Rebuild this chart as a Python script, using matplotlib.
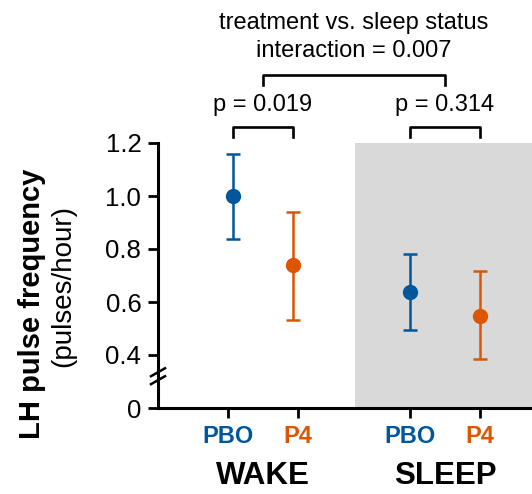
import matplotlib.pyplot as plt

plt.rcParams['font.family'] = ['Liberation Sans', 'DejaVu Sans']

# group means and error bar limits (pulses/hour)
labels = ["PBO", "P4", "PBO", "P4"]
means = [1.0, 0.739, 0.638, 0.548]
upper = [1.159, 0.941, 0.78, 0.716]
lower = [0.836, 0.533, 0.495, 0.386]
groups = ["WAKE", "SLEEP"]
p_values = ["p = 0.019", "p = 0.314"]
interaction = "treatment vs. sleep status\ninteraction = 0.007"

blue = "#00579b"
orange = "#dd5500"
colors = [blue, orange, blue, orange]

tick_pos = [0, 1, 2.6, 3.6]
point_pos = [0.07, 0.93, 2.6, 3.6]

fig = plt.figure(figsize=(5.32, 4.94), dpi=100)
ax = fig.add_axes([158 / 532, 86 / 494, 374 / 532, 265 / 494])

# sleep half shaded grey
ax.axvspan(1.81, 4.4, color="#d9d9d9", lw=0, zorder=0)

for x, m, hi, lo, c in zip(point_pos, means, upper, lower, colors):
    ax.errorbar(x, m, yerr=[[m - lo], [hi - m]], fmt="o", color=c,
                ms=10, elinewidth=1.8, capsize=5, capthick=1.8, zorder=3)

# broken y axis: 0 sits one step below 0.4
ax.set_ylim(0.2, 1.2)
ax.set_yticks([0.2, 0.4, 0.6, 0.8, 1.0, 1.2])
ax.set_yticklabels(["0", "0.4", "0.6", "0.8", "1.0", "1.2"], fontsize=18.5)
ax.set_xlim(-1.0, 4.343)
ax.set_xticks(tick_pos)
ax.set_xticklabels(labels, fontsize=17, fontweight="bold")
for t, c in zip(ax.get_xticklabels(), colors):
    t.set_color(c)

for s in ["top", "right"]:
    ax.spines[s].set_visible(False)
for s in ["left", "bottom"]:
    ax.spines[s].set_linewidth(2.2)
ax.tick_params(width=2, length=7, pad=5)

# axis break marks
for dy in [0.0, 0.03]:
    ax.plot([-1.1, -0.9], [0.29 + dy, 0.32 + dy], color="black", lw=1.8,
            clip_on=False, zorder=5)

ax.text(-2.8, 0.593, "LH pulse frequency", rotation=90, fontsize=21,
        fontweight="bold", ha="center", va="center")
ax.text(-2.36, 0.66, "(pulses/hour)", rotation=90, fontsize=20,
        ha="center", va="center")

for g, x in zip(groups, [0.5, 3.1]):
    ax.text(x, -0.055, g, fontsize=22.5, fontweight="bold", ha="center",
            va="center", clip_on=False)


def bracket(x0, x1, y, h):
    ax.plot([x0, x0, x1, x1], [y - h, y, y, y - h], color="black", lw=1.9,
            clip_on=False)


bracket(point_pos[0], point_pos[1], 1.26, 0.038)
bracket(point_pos[2], point_pos[3], 1.26, 0.038)
ax.text(0.5, 1.343, p_values[0], fontsize=17, ha="center", va="center")
ax.text(3.1, 1.343, p_values[1], fontsize=17, ha="center", va="center")
bracket(0.5, 3.1, 1.455, 0.038)
ax.text(1.8, 1.6, interaction, fontsize=17, ha="center", va="center",
        linespacing=1.3)

fig.savefig("out.png", dpi=100)
